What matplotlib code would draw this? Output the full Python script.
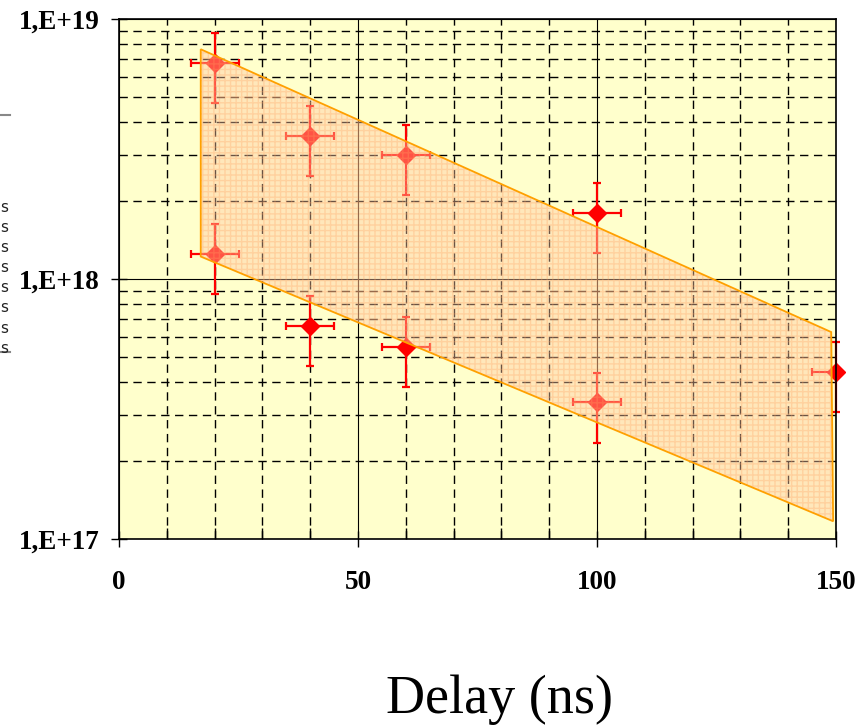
import math
import matplotlib
matplotlib.use("Agg")
import matplotlib.pyplot as plt
from matplotlib.patches import Polygon
from matplotlib.lines import Line2D
from matplotlib.ticker import FixedLocator, FuncFormatter, MultipleLocator, NullFormatter

# measured points (delay in ns, density)
delay = [20, 20, 40, 40, 60, 60, 100, 100, 150]
density = [6.8e18, 1.25e18, 3.55e18, 6.6e17, 3.0e18, 5.5e17, 1.8e18, 3.35e17, 4.4e17]
delay_err_lo = [5, 5, 5, 5, 5, 5, 5, 5, 5]
delay_err_hi = [5, 5, 5, 5, 5, 5, 5, 5, 0]   # last one is cut at the axis edge
rel_err = 0.3

# shaded band corners
band_x = [17.1, 149.0, 149.4, 17.1]
band_y = [7.65e18, 6.25e17, 1.17e17, 1.22e18]

ytick_vals = [1e17, 1e18, 1e19]
xtick_vals = [0, 50, 100, 150]

plt.rcParams['hatch.linewidth'] = 1.0

fig = plt.figure(figsize=(8.66, 7.27), dpi=100)
ax = fig.add_axes([119/866, 1-539/727, (836-119)/866, (539-19)/727])
ax.set_facecolor('#FFFFCC')

ax.set_yscale('log')
ax.set_xlim(0, 150)
ax.set_ylim(1e17, 1e19)

# grid
ax.set_axisbelow(True)
ax.xaxis.set_major_locator(FixedLocator(xtick_vals))
ax.xaxis.set_minor_locator(MultipleLocator(10))
ax.yaxis.set_major_locator(FixedLocator(ytick_vals))
minor_y = [m * 10**e for e in (17, 18) for m in range(2, 10)]
ax.yaxis.set_minor_locator(FixedLocator(minor_y))
ax.yaxis.set_minor_formatter(NullFormatter())
ax.grid(which='major', color='black', lw=0.8, ls='-')
ax.grid(which='minor', color='black', lw=1.0, ls=(0, (6, 4)))

ax.yaxis.set_major_formatter(FuncFormatter(lambda v, p: '1,E+%d' % round(math.log10(v))))

ax.tick_params(which='major', direction='inout', length=12, width=1, pad=8)
ax.tick_params(which='minor', direction='in', length=8, width=1)
ax.tick_params(axis='y', which='minor', length=0)
for lab in ax.get_xticklabels() + ax.get_yticklabels():
    lab.set_fontfamily('Liberation Serif')
    lab.set_fontweight('bold')
    lab.set_fontsize(19.5)
ax.tick_params(axis='x', pad=16)

for sp in ax.spines.values():
    sp.set_color('black')
    sp.set_linewidth(1.2)

# points with error bars
ax.errorbar(delay, density, xerr=[delay_err_lo, delay_err_hi],
            yerr=[rel_err * d for d in density],
            fmt='D', color='red', ms=9, elinewidth=1.6, capsize=3, capthick=1.6,
            zorder=2, clip_on=False)

# band on top
pts = list(zip(band_x, band_y))
ax.add_patch(Polygon(pts, closed=True, facecolor=(1.0, 0.78, 0.64, 0.42),
                     edgecolor='none', lw=0, zorder=3))
ax.add_patch(Polygon(pts, closed=True, facecolor='none', edgecolor='#FFA060',
                     lw=0, hatch='+++', alpha=0.3, zorder=3))
ax.add_patch(Polygon(pts, closed=True, facecolor='none', edgecolor='#FFA000',
                     lw=1.3, zorder=3))

# clipped legend remnant on the left
for i in range(8):
    fig.text(0.4/866, 1 - (207 + i * 20.2) / 727, 's', fontsize=11,
             family='DejaVu Sans', va='center', ha='left', color='#222222')
fig.add_artist(Line2D([0, 10/866], [1-115/727, 1-115/727], color='#888888', lw=1.5))
fig.add_artist(Line2D([0, 10/866], [1-352/727, 1-352/727], color='#888888', lw=1.5))

fig.text(500/866, 1 - 700/727, 'Delay (ns)', fontsize=39, family='Liberation Serif',
         ha='center', va='center')

fig.savefig('out.png', dpi=100)
